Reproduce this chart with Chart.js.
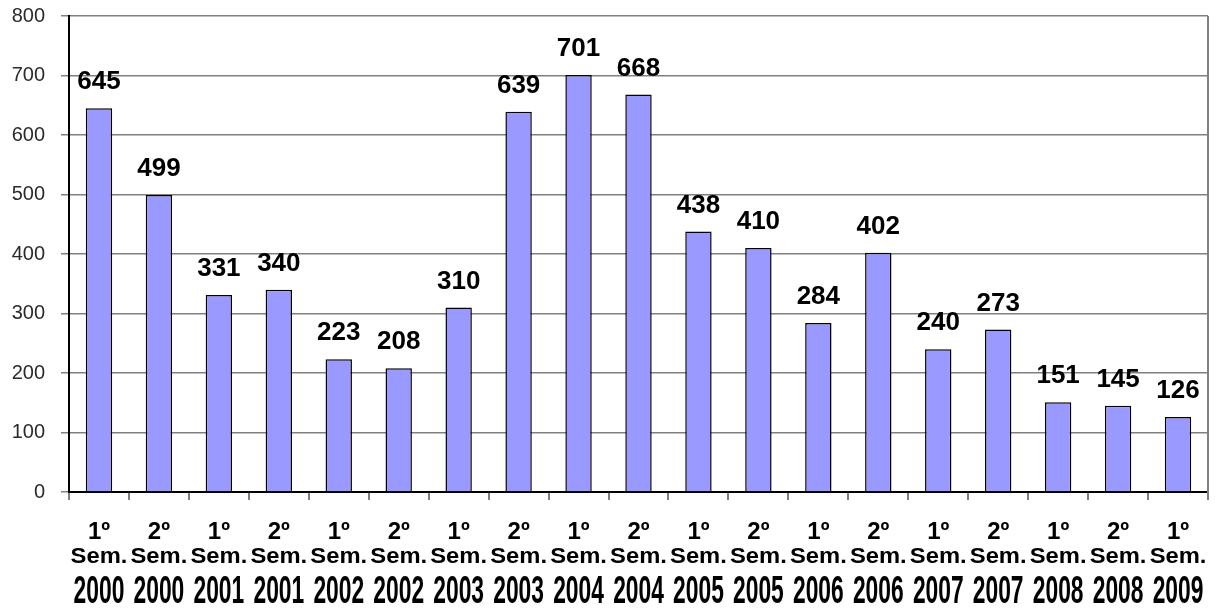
<!DOCTYPE html>
<html>
<head>
<meta charset="utf-8">
<script src="https://cdn.jsdelivr.net/npm/chart.js@4/dist/chart.umd.min.js"></script>
<style>
  html, body { margin: 0; padding: 0; background: #fff; }
  #wrap { width: 1218px; height: 613px; position: relative; overflow: hidden; }
</style>
</head>
<body>
<div id="wrap"><canvas id="grafico" width="1218" height="613"></canvas></div>
<script>
const semestres = ["1º", "2º", "1º", "2º", "1º", "2º", "1º", "2º", "1º", "2º", "1º", "2º", "1º", "2º", "1º", "2º", "1º", "2º", "1º"];
const anos = ["2000", "2000", "2001", "2001", "2002", "2002", "2003", "2003", "2004", "2004", "2005", "2005", "2006", "2006", "2007", "2007", "2008", "2008", "2009"];
const valores = [645, 499, 331, 340, 223, 208, 310, 639, 701, 668, 438, 410, 284, 402, 240, 273, 151, 145, 126];
const ticksY = [0, 100, 200, 300, 400, 500, 600, 700, 800];

const etiquetas = semestres.map((s, i) => s + " Sem. " + anos[i]);
const fuente = "Arial, 'Liberation Sans', sans-serif";

// valores encima de cada barra
const etiquetasBarras = {
  id: "etiquetasBarras",
  afterDatasetsDraw(chart) {
    const ctx = chart.ctx;
    const meta = chart.getDatasetMeta(0);
    ctx.save();
    ctx.font = "bold 26px " + fuente;
    ctx.fillStyle = "#000";
    ctx.textAlign = "center";
    ctx.textBaseline = "middle";
    meta.data.forEach((bar, i) => {
      ctx.fillText(String(valores[i]), bar.x, bar.y - 26);
    });
    ctx.restore();
  },
};

// etiquetas del eje x (años recortados abajo)
const etiquetasX = {
  id: "etiquetasX",
  afterDraw(chart) {
    const ctx = chart.ctx;
    const x = chart.scales.x;
    ctx.save();
    ctx.fillStyle = "#000";
    ctx.textAlign = "center";
    ctx.textBaseline = "middle";
    semestres.forEach((s, i) => {
      const px = x.getPixelForTick(i);
      ctx.font = "bold 24px " + fuente;
      ctx.fillText(s, px, 532);
      ctx.save();
      ctx.translate(px, 557);
      ctx.scale(1.08, 1);
      ctx.font = "bold 22px " + fuente;
      ctx.fillText("Sem.", 0, 0);
      ctx.restore();
      ctx.save();
      ctx.translate(px, 573);
      ctx.scale(0.95, 1.6);
      ctx.textBaseline = "top";
      ctx.font = "bold 24px " + fuente;
      ctx.fillText(anos[i], 0, 0);
      ctx.restore();
    });
    ctx.restore();
  },
};

// borde derecho del area
const bordeDerecho = {
  id: "bordeDerecho",
  afterDraw(chart) {
    const a = chart.chartArea;
    const ctx = chart.ctx;
    ctx.save();
    ctx.strokeStyle = "#808080";
    ctx.lineWidth = 2;
    ctx.beginPath();
    ctx.moveTo(a.right, a.top);
    ctx.lineTo(a.right, a.bottom + 8);
    ctx.stroke();
    ctx.restore();
  },
};

new Chart(document.getElementById("grafico"), {
  type: "bar",
  data: {
    labels: etiquetas,
    datasets: [
      {
        data: valores,
        backgroundColor: "#9999FF",
        borderColor: "#000",
        borderWidth: 1.5,
        categoryPercentage: 1,
        barPercentage: 0.44,
      },
    ],
  },
  options: {
    responsive: false,
    animation: false,
    devicePixelRatio: 1,
    layout: { padding: { top: 16, right: 10, left: 0, bottom: 0 } },
    plugins: { legend: { display: false }, tooltip: { enabled: false } },
    scales: {
      x: {
        offset: true,
        grid: { display: true, drawOnChartArea: false, drawTicks: true, tickLength: 8, color: "#808080", lineWidth: 2, offset: true },
        border: { display: true, color: "#000", width: 2 },
        ticks: { display: false },
        afterFit(scale) { scale.height = 121; },
      },
      y: {
        min: 0,
        max: 800,
        afterBuildTicks(scale) { scale.ticks = ticksY.map((v) => ({ value: v })); },
        grid: { color: "#808080", lineWidth: 1.5, tickLength: 8 },
        border: { display: true, color: "#000", width: 2 },
        ticks: {
          color: "#2a2a2a",
          padding: 16,
          font: { family: fuente, size: 20 },
        },
        afterFit(scale) {
          scale.width = 69;
          scale.paddingTop = 0;
          scale.paddingBottom = 0;
        },
      },
    },
  },
  plugins: [etiquetasBarras, etiquetasX, bordeDerecho],
});
</script>
</body>
</html>
